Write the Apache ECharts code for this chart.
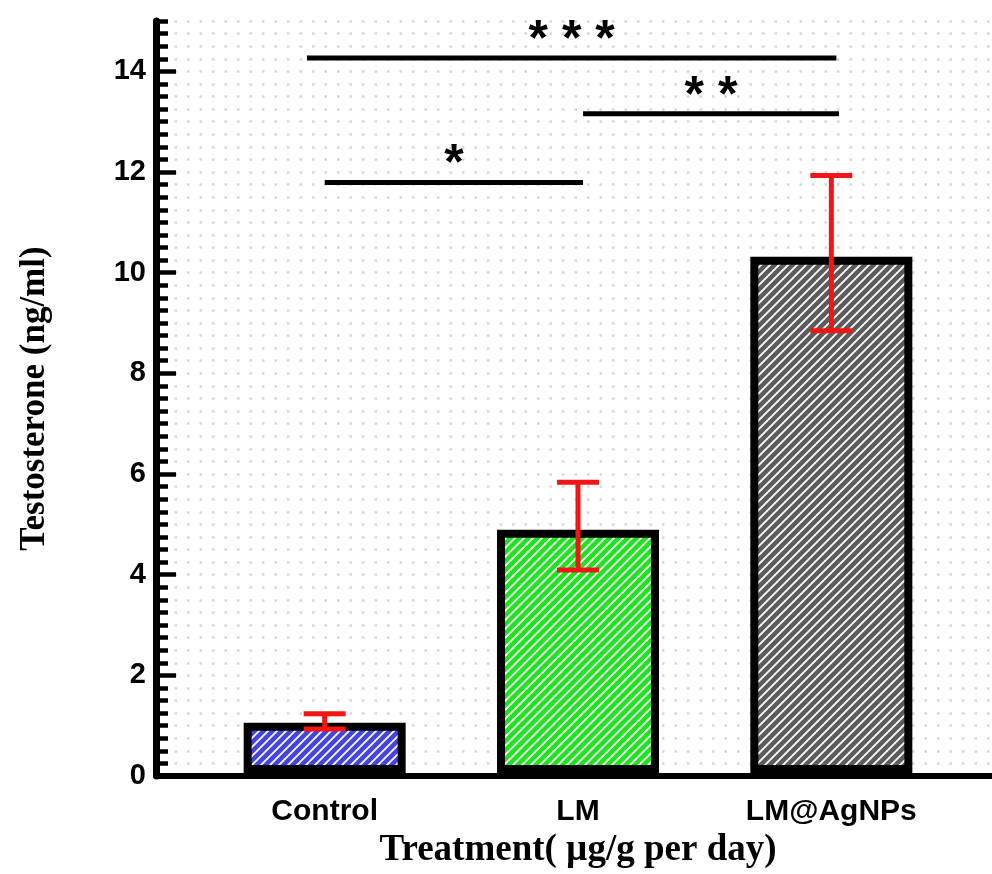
<!DOCTYPE html>
<html>
<head>
<meta charset="utf-8">
<script src="https://cdn.jsdelivr.net/npm/echarts@6/dist/echarts.min.js"></script>
<style>
  html, body { margin: 0; padding: 0; background: #fff; }
  #chart { width: 992px; height: 874px; }
</style>
</head>
<body>
<div id="chart"></div>
<script>
const categories = ["Control", "LM", "LM@AgNPs"];
const means = [1.0, 4.85, 10.3];
const errLow = [0.88, 4.05, 8.82];
const errHigh = [1.18, 5.8, 11.92];
const barColors = ["#4444e0", "#1ee41e", "#5c5c5c"];
const yTicks = [0, 2, 4, 6, 8, 10, 12, 14];
// significance brackets, x in category units
const sigFrom = [-0.07, 1.02, 0.0];
const sigTo = [2.02, 2.03, 1.02];
const sigLevel = [14.26, 13.15, 11.78];
const sigText = ["***", "**", "*"];

function makeHatch(color) {
  const c = document.createElement("canvas");
  c.width = 9;
  c.height = 9;
  const ctx = c.getContext("2d");
  ctx.fillStyle = color;
  ctx.fillRect(0, 0, 9, 9);
  ctx.strokeStyle = "#ffffff";
  ctx.lineWidth = 1.8;
  ctx.beginPath();
  ctx.moveTo(-1, 10); ctx.lineTo(10, -1);
  ctx.moveTo(-5, 5); ctx.lineTo(5, -5);
  ctx.moveTo(4, 14); ctx.lineTo(14, 4);
  ctx.stroke();
  return { image: c, repeat: "repeat" };
}

const chart = echarts.init(document.getElementById("chart"));

const option = {
  backgroundColor: "#fff",
  animation: false,
  grid: [
    { left: 198, right: 34, top: 21, bottom: 98 },
    { left: 156, right: 0, top: 21, bottom: 98 }
  ],
  xAxis: [
    {
      type: "category",
      gridIndex: 0,
      data: categories,
      axisLine: { show: false },
      axisTick: { show: false },
      axisLabel: {
        margin: 24,
        color: "#000",
        fontFamily: "Liberation Sans",
        fontWeight: "bold",
        fontSize: 30
      },
      name: "Treatment( µg/g per day)",
      nameLocation: "middle",
      nameGap: 59,
      nameTextStyle: {
        color: "#000",
        fontFamily: "Liberation Serif",
        fontWeight: "bold",
        fontSize: 37
      }
    },
    {
      type: "value",
      gridIndex: 0,
      min: -0.5,
      max: 2.5,
      show: false
    },
    {
      type: "value",
      gridIndex: 1,
      min: 0,
      max: 1,
      axisLine: { show: true, lineStyle: { color: "#000", width: 6 } },
      axisTick: { show: false },
      axisLabel: { show: false },
      splitLine: { show: false }
    }
  ],
  yAxis: [
    { type: "value", gridIndex: 0, min: 0, max: 15, show: false },
    {
      type: "value",
      gridIndex: 1,
      position: "left",
      min: 0,
      max: 15,
      interval: 2,
      axisLine: { show: true, lineStyle: { color: "#000", width: 7 } },
      axisTick: {
        show: true,
        inside: true,
        length: 20,
        customValues: yTicks,
        lineStyle: { color: "#000", width: 4.5 }
      },
      axisLabel: {
        customValues: yTicks,
        margin: 10,
        color: "#000",
        fontFamily: "Liberation Sans",
        fontWeight: "bold",
        fontSize: 29
      },
      splitLine: { show: false },
      name: "Testosterone (ng/ml)",
      nameLocation: "middle",
      nameGap: 104,
      nameTextStyle: {
        color: "#000",
        fontFamily: "Liberation Serif",
        fontWeight: "bold",
        fontSize: 35
      }
    },
    {
      type: "value",
      gridIndex: 1,
      position: "left",
      offset: 0,
      min: 0,
      max: 15,
      interval: 0.25,
      axisLine: { show: false },
      axisTick: {
        show: true,
        inside: true,
        length: 12,
        lineStyle: { color: "#000", width: 4.5 }
      },
      axisLabel: { show: false },
      splitLine: {
        show: true,
        lineStyle: { color: "#d6d6d6", width: 2.5, type: [2.5, 10], dashOffset: -6 }
      }
    }
  ],
  series: [
    {
      type: "bar",
      xAxisIndex: 0,
      yAxisIndex: 0,
      barWidth: 162,
      data: means.map((v, i) => ({
        value: v,
        itemStyle: { color: makeHatch(barColors[i]), borderColor: "#000", borderWidth: 8 }
      })),
      z: 3
    },
    {
      type: "custom",
      xAxisIndex: 0,
      yAxisIndex: 0,
      z: 5,
      data: categories.map((c, i) => [i, errLow[i], errHigh[i]]),
      renderItem: (params, api) => {
        const lo = api.coord([api.value(0), api.value(1)]);
        const hi = api.coord([api.value(0), api.value(2)]);
        const w = 21;
        const st = { stroke: "#f21515", lineWidth: 5 };
        return {
          type: "group",
          children: [
            { type: "line", shape: { x1: lo[0], y1: lo[1], x2: hi[0], y2: hi[1] }, style: st },
            { type: "line", shape: { x1: lo[0] - w, y1: lo[1], x2: lo[0] + w, y2: lo[1] }, style: st },
            { type: "line", shape: { x1: hi[0] - w, y1: hi[1], x2: hi[0] + w, y2: hi[1] }, style: st }
          ]
        };
      }
    },
    {
      type: "custom",
      xAxisIndex: 1,
      yAxisIndex: 0,
      z: 5,
      data: sigFrom.map((f, i) => [f, sigTo[i], sigLevel[i]]),
      encode: { x: [0, 1], y: 2 },
      renderItem: (params, api) => {
        const a = api.coord([api.value(0), api.value(2)]);
        const b = api.coord([api.value(1), api.value(2)]);
        return {
          type: "group",
          children: [
            {
              type: "line",
              shape: { x1: a[0], y1: a[1], x2: b[0], y2: b[1] },
              style: { stroke: "#000", lineWidth: 5 }
            },
            {
              type: "text",
              x: (a[0] + b[0]) / 2,
              y: a[1] + 8,
              style: {
                text: sigText[params.dataIndex].split("").join(" "),
                fill: "#000",
                font: "bold 50px 'Liberation Sans'",
                align: "center",
                verticalAlign: "bottom"
              }
            }
          ]
        };
      }
    }
  ]
};

chart.setOption(option);
</script>
</body>
</html>
